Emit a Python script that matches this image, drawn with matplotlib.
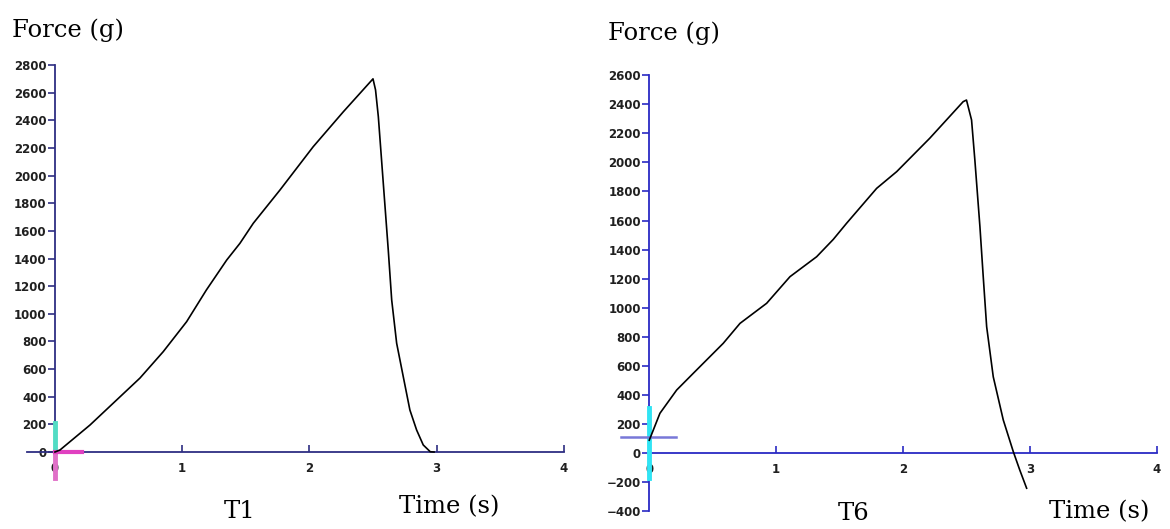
import matplotlib
matplotlib.use("Agg")
import matplotlib.pyplot as plt

# T1 curve (time s, force g)
t1_time = [0, 0.04, 0.275, 0.668, 0.851, 1.035, 1.19, 1.35, 1.454, 1.559, 1.769,
           2.03, 2.267, 2.50, 2.52, 2.542, 2.581, 2.62, 2.647, 2.686, 2.738, 2.79,
           2.843, 2.895, 2.95, 2.98]
t1_force = [0, 15, 195, 535, 726, 943, 1172, 1389, 1510, 1655, 1896,
            2209, 2462, 2700, 2620, 2426, 1944, 1462, 1100, 787, 545, 304,
            159, 51, 2, 0]

# T6 curve
t6_time = [0, 0.084, 0.216, 0.347, 0.583, 0.715, 0.925, 1.109, 1.319, 1.45,
           1.555, 1.792, 1.95, 2.21, 2.474, 2.50, 2.54, 2.566, 2.606, 2.632,
           2.659, 2.711, 2.79, 2.869, 2.92, 2.974]
t6_force = [90, 275, 435, 550, 756, 893, 1031, 1214, 1351, 1470,
            1581, 1821, 1936, 2165, 2417, 2428, 2291, 2016, 1557, 1214,
            870, 526, 229, 11, -115, -240]

x_ticks = [0, 1, 2, 3, 4]
t1_yticks = list(range(0, 2801, 200))
t6_yticks = list(range(-400, 2601, 200))

W, H = 1170, 529
fig = plt.figure(figsize=(W / 100, H / 100), dpi=100)
fig.patch.set_facecolor("white")


def px(x, y):
    return x / W, 1 - y / H


def setup(ax, color, yticks, xbounds):
    ax.set_facecolor("none")
    for s in ["top", "right"]:
        ax.spines[s].set_visible(False)
    ax.spines["left"].set_position(("data", 0))
    ax.spines["bottom"].set_position(("data", 0))
    ax.spines["left"].set_bounds(yticks[0], yticks[-1])
    ax.spines["bottom"].set_bounds(*xbounds)
    for s in ["left", "bottom"]:
        ax.spines[s].set_color(color)
        ax.spines[s].set_linewidth(1.3)
    ax.set_yticks(yticks)
    ax.set_xticks(x_ticks)
    ax.tick_params(axis="y", direction="out", length=5, width=1.2, color=color,
                   labelsize=8.5, pad=1)
    ax.tick_params(axis="x", direction="in", length=5, width=1.2, color=color,
                   labelsize=8.5, pad=7)
    for lab in ax.get_xticklabels() + ax.get_yticklabels():
        lab.set_fontweight("bold")
        lab.set_color("#202020")


# left panel: T1
ax1 = fig.add_axes([0.01436, 0.0149, 0.4784, 0.8883])
ax1.set_xlim(-0.3, 4.1)
ax1.set_ylim(-500, 2900)
setup(ax1, "#2e2e82", t1_yticks, (-0.22, 4))
ax1.plot([0, 0], [0, 210], color="#52dcc4", lw=3.5, zorder=2.6)
ax1.plot([0, 0], [0, -190], color="#e070c8", lw=3.5, zorder=2.6)
ax1.plot([0, 0.21], [0, 0], color="#e040c0", lw=3, zorder=2.6)
ax1.plot(t1_time, t1_force, color="black", lw=1.2, zorder=3)

# right panel: T6
ax2 = fig.add_axes([0.5224, 0.00558, 0.4750, 0.8801])
ax2.set_xlim(-0.3, 4.08)
ax2.set_ylim(-500, 2700)
setup(ax2, "#2a2ac4", t6_yticks, (0, 4))
ax2.plot([0, 0], [310, -170], color="#30e4f4", lw=3.5, zorder=2.6)
ax2.plot([-0.225, 0.21], [110, 110], color="#7878d8", lw=1.8, zorder=2.6)
ax2.plot(t6_time, t6_force, color="black", lw=1.2, zorder=3)

serif = ["DejaVu Serif"]
fig.text(*px(12, 30), "Force (g)", family=serif, fontsize=17.5, va="center", ha="left")
fig.text(*px(608, 33), "Force (g)", family=serif, fontsize=17.5, va="center", ha="left")
fig.text(*px(240, 511), "T1", family=serif, fontsize=17.5, va="center", ha="center")
fig.text(*px(449, 507), "Time (s)", family=serif, fontsize=17.5, va="center", ha="center")
fig.text(*px(854, 513), "T6", family=serif, fontsize=17.5, va="center", ha="center")
fig.text(*px(1099, 512), "Time (s)", family=serif, fontsize=17.5, va="center", ha="center")

fig.savefig("out.png", dpi=100, facecolor="white")
